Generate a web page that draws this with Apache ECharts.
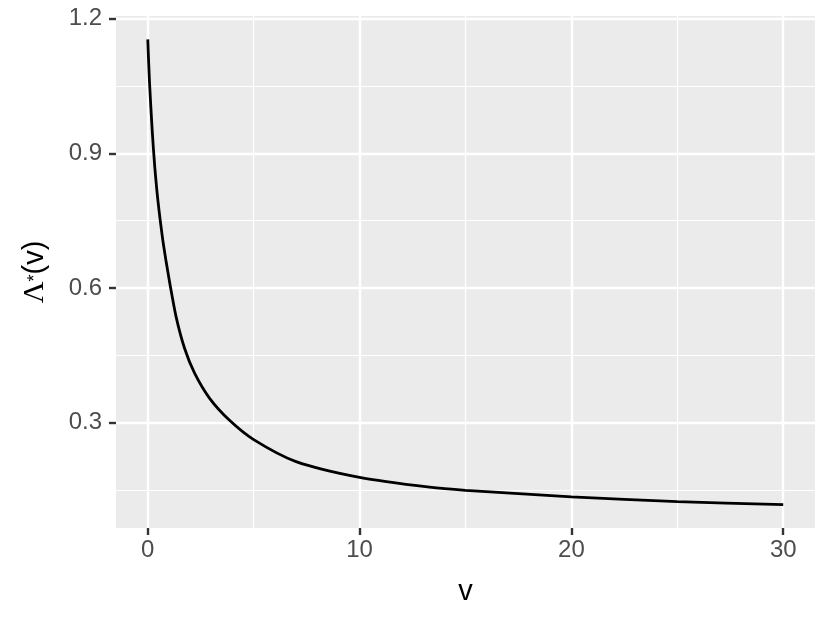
<!DOCTYPE html>
<html>
<head>
<meta charset="utf-8">
<script src="https://cdn.jsdelivr.net/npm/echarts@6/dist/echarts.min.js"></script>
<style>
  html, body { margin: 0; padding: 0; background: #ffffff; }
  #chart { width: 830px; height: 623px; }
</style>
</head>
<body>
<div id="chart"></div>
<script>
// Data
const vValues = [0, 0.08, 0.21, 0.33, 0.49, 0.7, 0.87, 1.06, 1.34, 1.74, 2.21, 2.92, 3.86, 5, 7, 10, 13.3, 15, 20, 25, 30];
const lambdaValues = [1.154, 1.06, 0.95, 0.87, 0.79, 0.71, 0.658, 0.605, 0.535, 0.465, 0.41, 0.354, 0.305, 0.262, 0.213, 0.178, 0.156, 0.149, 0.1345, 0.124, 0.117];

// Axis ticks / grid lines
const xTicks = [0, 10, 20, 30];
const xMinor = [5, 15, 25];
const yTicks = [0.3, 0.6, 0.9, 1.2];
const yMinor = [0.15, 0.45, 0.75, 1.05];

const xLimits = [-1.5, 31.5];
const yLimits = [0.065, 1.206];

const seriesData = vValues.map((v, i) => [v, lambdaValues[i]]);

// helper category axis (same span as the value axis) used only to draw x tick marks
const xTickSteps = [];
for (let k = 0; k <= Math.round((xLimits[1] - xLimits[0]) / 0.5); k++) {
  xTickSteps.push(String(xLimits[0] + k * 0.5));
}

const FONT = "'Liberation Sans', Arial, Helvetica, sans-serif";

const gridMarks = [];
xMinor.forEach(v => gridMarks.push({ xAxis: v, lineStyle: { width: 1.2 } }));
yMinor.forEach(v => gridMarks.push({ yAxis: v, lineStyle: { width: 1.2 } }));
xTicks.forEach(v => gridMarks.push({ xAxis: v, lineStyle: { width: 2.4 } }));
yTicks.forEach(v => gridMarks.push({ yAxis: v, lineStyle: { width: 2.4 } }));

const chart = echarts.init(document.getElementById('chart'), null, { renderer: 'canvas' });

chart.setOption({
  animation: false,
  backgroundColor: '#ffffff',
  grid: {
    left: 116, right: 15, top: 16, bottom: 95,
    show: true, backgroundColor: '#EBEBEB', borderWidth: 0
  },
  xAxis: [
    {
      type: 'value',
      position: 'bottom',
      offset: 0,
      min: xLimits[0], max: xLimits[1],
      name: 'v',
      nameLocation: 'middle',
      nameGap: 49,
      nameTextStyle: { color: '#000000', fontSize: 29, fontFamily: FONT },
      axisLine: { show: false, onZero: false },
      axisTick: { show: false },
      axisLabel: { customValues: xTicks.slice(), color: '#4D4D4D', fontSize: 24, fontFamily: FONT, margin: 10 },
      splitLine: { show: false }
    },
    {
      type: 'category',
      position: 'bottom',
      offset: 0,
      data: xTickSteps,
      boundaryGap: false,
      axisLine: { show: false, onZero: false },
      axisTick: {
        show: true, inside: false, length: 7,
        interval: (idx, val) => xTicks.includes(Number(val)),
        lineStyle: { color: '#333333', width: 2.4 }
      },
      axisLabel: { show: false },
      splitLine: { show: false }
    }
  ],
  yAxis: {
    type: 'value',
    position: 'left',
    min: yLimits[0], max: yLimits[1],
    name: '{a|Λ}{b|*}{c|(v)}',
    nameLocation: 'middle',
    nameGap: 66,
    nameRotate: 90,
    nameTextStyle: {
      color: '#000000', fontSize: 29, fontFamily: FONT,
      rich: {
        a: { fontSize: 30, fontFamily: "'Liberation Serif', 'DejaVu Serif', serif", color: '#000' },
        b: { fontSize: 18, fontFamily: FONT, color: '#000', verticalAlign: 'middle' },
        c: { fontSize: 29, fontFamily: FONT, color: '#000' }
      }
    },
    axisLine: { show: true, onZero: false, lineStyle: { color: '#EBEBEB', width: 0, opacity: 0 } },
    axisTick: { show: true, inside: false, length: 7, customValues: yTicks.slice(), lineStyle: { color: '#333333', width: 2.4, opacity: 1 } },
    axisLabel: {
      customValues: yTicks.slice(), color: '#4D4D4D', fontSize: 24, fontFamily: FONT, margin: 14,
      formatter: v => v.toFixed(1)
    },
    splitLine: { show: false }
  },
  series: [
    {
      type: 'line',
      name: 'grid',
      data: [],
      z: 1,
      silent: true,
      markLine: {
        silent: true,
        symbol: ['none', 'none'],
        label: { show: false },
        emphasis: { disabled: true },
        lineStyle: { color: '#ffffff', type: 'solid', width: 2.4 },
        data: gridMarks
      }
    },
    {
      type: 'line',
      name: 'lambda',
      data: seriesData,
      z: 5,
      showSymbol: false,
      symbol: 'none',
      smooth: 0.25,
      lineStyle: { color: '#000000', width: 2.8 }
    }
  ]
});
</script>
</body>
</html>
